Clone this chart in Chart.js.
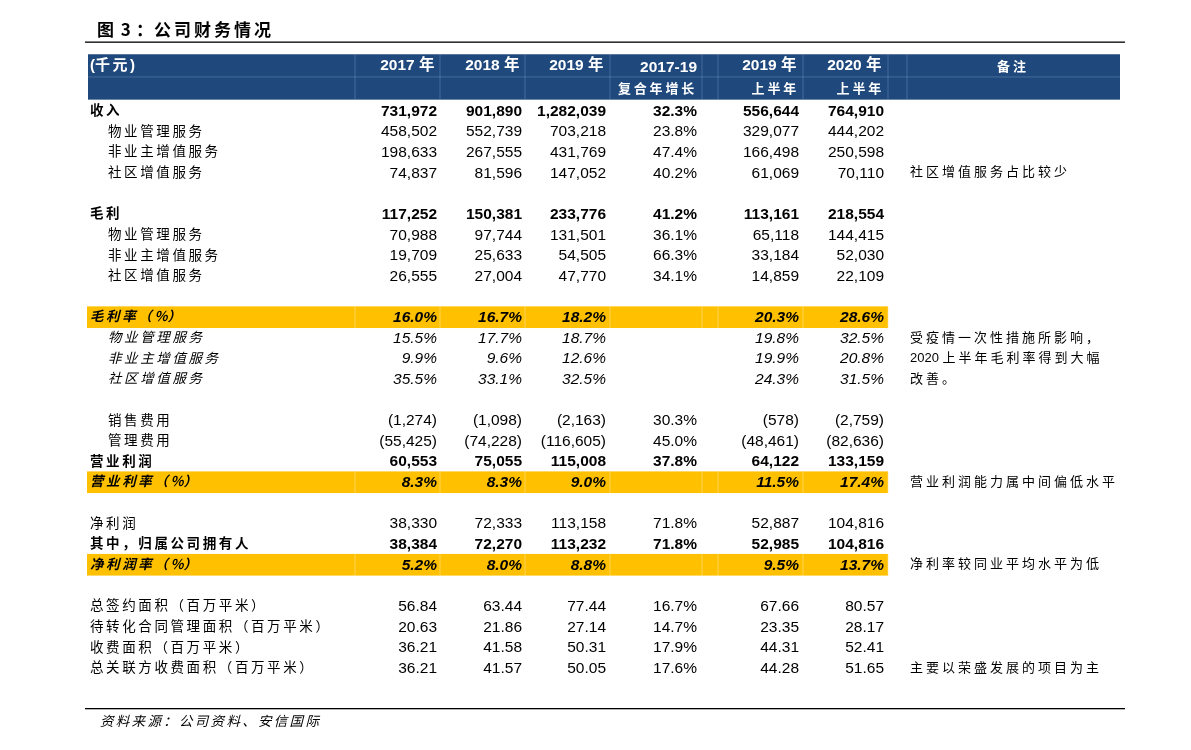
<!DOCTYPE html>
<html>
<head>
<meta charset="utf-8">
<script src="https://cdn.jsdelivr.net/npm/chart.js@4.4.1/dist/chart.umd.min.js"></script>
<style>
html,body{margin:0;padding:0;background:#fff;}
#wrap{width:1191px;height:750px;}
</style>
</head>
<body>
<div id="wrap"><canvas id="c" width="1191" height="750"></canvas></div>
<script>
// ---- data ----
const titleText = "图 3：公司财务情况";
const sourceText = "资料来源：公司资料、安信国际";
const headerRow1 = ["(千元)", "2017 年", "2018 年", "2019 年", "2017-19", "2019 年", "2020 年", "备注"];
const headerRow2 = ["", "", "", "", "复合年增长", "上半年", "上半年", ""];
const rowLabels = [
  "收入","物业管理服务","非业主增值服务","社区增值服务","",
  "毛利","物业管理服务","非业主增值服务","社区增值服务","",
  "毛利率（%）","物业管理服务","非业主增值服务","社区增值服务","",
  "销售费用","管理费用","营业利润","营业利率（%）","",
  "净利润","其中，归属公司拥有人","净利润率（%）","",
  "总签约面积（百万平米）","待转化合同管理面积（百万平米）","收费面积（百万平米）","总关联方收费面积（百万平米）"
];
const rowIndent = [0,1,1,1,0, 0,1,1,1,0, 0,1,1,1,0, 1,1,0,0,0, 0,0,0,0, 0,0,0,0];
const rowBold   = [1,0,0,0,0, 1,0,0,0,0, 1,0,0,0,0, 0,0,1,1,0, 0,1,1,0, 0,0,0,0];
const rowItalic = [0,0,0,0,0, 0,0,0,0,0, 1,1,1,1,0, 0,0,0,1,0, 0,0,1,0, 0,0,0,0];
const rowHighlight = [0,0,0,0,0, 0,0,0,0,0, 1,0,0,0,0, 0,0,0,1,0, 0,0,1,0, 0,0,0,0];
const col2017 = ["731,972","458,502","198,633","74,837","","117,252","70,988","19,709","26,555","","16.0%","15.5%","9.9%","35.5%","","(1,274)","(55,425)","60,553","8.3%","","38,330","38,384","5.2%","","56.84","20.63","36.21","36.21"];
const col2018 = ["901,890","552,739","267,555","81,596","","150,381","97,744","25,633","27,004","","16.7%","17.7%","9.6%","33.1%","","(1,098)","(74,228)","75,055","8.3%","","72,333","72,270","8.0%","","63.44","21.86","41.58","41.57"];
const col2019 = ["1,282,039","703,218","431,769","147,052","","233,776","131,501","54,505","47,770","","18.2%","18.7%","12.6%","32.5%","","(2,163)","(116,605)","115,008","9.0%","","113,158","113,232","8.8%","","77.44","27.14","50.31","50.05"];
const colCagr = ["32.3%","23.8%","47.4%","40.2%","","41.2%","36.1%","66.3%","34.1%","","","","","","","30.3%","45.0%","37.8%","","","71.8%","71.8%","","","16.7%","14.7%","17.9%","17.6%"];
const colH119 = ["556,644","329,077","166,498","61,069","","113,161","65,118","33,184","14,859","","20.3%","19.8%","19.9%","24.3%","","(578)","(48,461)","64,122","11.5%","","52,887","52,985","9.5%","","67.66","23.35","44.31","44.28"];
const colH120 = ["764,910","444,202","250,598","70,110","","218,554","144,415","52,030","22,109","","28.6%","32.5%","20.8%","31.5%","","(2,759)","(82,636)","133,159","17.4%","","104,816","104,816","13.7%","","80.57","28.17","52.41","51.65"];
const notes = ["","","","社区增值服务占比较少","", "","","","","", "","受疫情一次性措施所影响，","2020 上半年毛利率得到大幅","改善。","", "","","","营业利润能力属中间偏低水平","", "","","净利率较同业平均水平为低","", "","","","主要以荣盛发展的项目为主"];

// ---- layout (styles/positions) ----
const valueCols = [col2017, col2018, col2019, colCagr, colH119, colH120];
const colRight = [437, 522, 606, 697, 799, 884];   // x-values on the x scale
const colLines = [355, 440, 525, 610, 702, 718, 803, 888, 907];
const labelX = 90, indentX = 108, noteX = 910;
const ROW0 = 111, STEP = 20.63;
const yMin = -ROW0 / STEP, yMax = yMin + 750 / STEP;
const NUMFONT = '"Liberation Sans", Arial, "Noto Sans CJK SC", sans-serif';
const CJKFONT = '"Noto Sans CJK SC", "Liberation Sans", sans-serif';
const BLUE = '#1f497d', YEL = '#ffc000';

function isWide(ch){ return ch.charCodeAt(0) > 0x2e80; }
function spacedWidth(ctx, text, sp){
  let w = 0;
  for (const ch of text){ w += ctx.measureText(ch).width + (isWide(ch) ? sp : 0); }
  return w;
}
function drawSpaced(ctx, text, x, y, sp, align){
  let w = spacedWidth(ctx, text, sp);
  let cx = align === 'right' ? x - w : (align === 'center' ? x - w/2 : x);
  for (const ch of text){ ctx.fillText(ch, cx, y); cx += ctx.measureText(ch).width + (isWide(ch) ? sp : 0); }
}

const tablePlugin = {
  id: 'tablePlugin',
  afterDraw(chart){
    const ctx = chart.ctx, xs = chart.scales.x, ys = chart.scales.y;
    const X = v => xs.getPixelForValue(v), Y = v => ys.getPixelForValue(v);
    ctx.save();
    ctx.textBaseline = 'middle';
    ctx.textAlign = 'left';
    // title
    ctx.fillStyle = '#000';
    ctx.font = 'bold 17px ' + CJKFONT;
    drawSpaced(ctx, "图 3", X(97), 30, 3, 'left');
    drawSpaced(ctx, "：", X(136), 30, 0, 'left');
    drawSpaced(ctx, titleText.slice(4), X(154), 30, 3, 'left');
    ctx.fillRect(X(85), 41.5, X(1125) - X(85), 1.3);
    // header band
    const hTop = Y(-2.75), hMid = Y(-1.65), hBot = Y(-0.55);
    ctx.fillStyle = BLUE;
    ctx.fillRect(X(88), hTop, X(1120) - X(88), hBot - hTop);
    ctx.fillStyle = 'rgba(140,170,210,0.35)';
    ctx.fillRect(X(88), hMid - 0.5, X(1120) - X(88), 1);
    for (const lx of colLines){ ctx.fillRect(X(lx) - 0.5, hTop, 1, hBot - hTop); }
    // header text
    ctx.fillStyle = '#fff';
    const hy1 = Y(-2.2), hy2 = Y(-1.08);
    ctx.font = 'bold 15px ' + NUMFONT;
    drawSpaced(ctx, headerRow1[0], X(90), hy1, 2.5, 'left');
    for (let c = 1; c <= 6; c++){
      ctx.font = 'bold 15.5px ' + NUMFONT;
      drawSpaced(ctx, headerRow1[c], X(colRight[c-1]), c === 4 ? hy1 + 2 : hy1, 2.5, 'right');
      if (headerRow2[c]) { ctx.font = 'bold 13px ' + CJKFONT; drawSpaced(ctx, headerRow2[c], X(colRight[c-1]), hy2 - 1, 2.8, 'right'); }
    }
    ctx.font = 'bold 13px ' + CJKFONT;
    drawSpaced(ctx, headerRow1[7], X(1013), hy1, 3, 'center');
    // highlight bands
    rowLabels.forEach((lab, i) => {
      if (!rowHighlight[i]) return;
      const t = Y(i - 0.53), b = Y(i + 0.52);
      ctx.fillStyle = YEL;
      ctx.fillRect(X(87), t, X(888) - X(87), b - t);
      ctx.fillStyle = 'rgba(255,225,140,0.6)';
      for (const lx of colLines.slice(0, 8)){ ctx.fillRect(X(lx) - 0.5, t, 1, b - t); }
    });
    // rows
    rowLabels.forEach((lab, i) => {
      const y = Y(i);
      const st = (rowItalic[i] ? 'italic ' : '') + (rowBold[i] ? 'bold ' : '');
      ctx.fillStyle = '#000';
      if (lab){
        ctx.font = st + '13.5px ' + CJKFONT;
        drawSpaced(ctx, lab, X(rowIndent[i] ? indentX : labelX), y - 1, 2.6, 'left');
      }
      ctx.font = st + '15.5px ' + NUMFONT;
      ctx.textAlign = 'right';
      valueCols.forEach((col, c) => { if (col[i]) ctx.fillText(col[i], X(colRight[c]), y + 0.5); });
      ctx.textAlign = 'left';
      if (notes[i]){
        ctx.font = '13px ' + NUMFONT;
        drawSpaced(ctx, notes[i], X(noteX), y, 3, 'left');
      }
    });
    // bottom line and source
    ctx.fillStyle = '#000';
    ctx.fillRect(X(85), 708, X(1125) - X(85), 1.3);
    ctx.font = 'italic 13.5px ' + CJKFONT;
    drawSpaced(ctx, sourceText, X(100), 721, 2.3, 'left');
    ctx.restore();
  }
};

new Chart(document.getElementById('c'), {
  type: 'scatter',
  data: { datasets: [{ data: rowLabels.map((l, i) => ({ x: 0, y: i })), pointRadius: 0, showLine: false }] },
  options: {
    responsive: false, animation: false, devicePixelRatio: 1,
    layout: { padding: 0 },
    plugins: { legend: { display: false }, tooltip: { enabled: false } },
    scales: {
      x: { type: 'linear', min: 0, max: 1191, display: false },
      y: { type: 'linear', min: yMin, max: yMax, reverse: true, display: false }
    }
  },
  plugins: [tablePlugin]
});
</script>
</body>
</html>
